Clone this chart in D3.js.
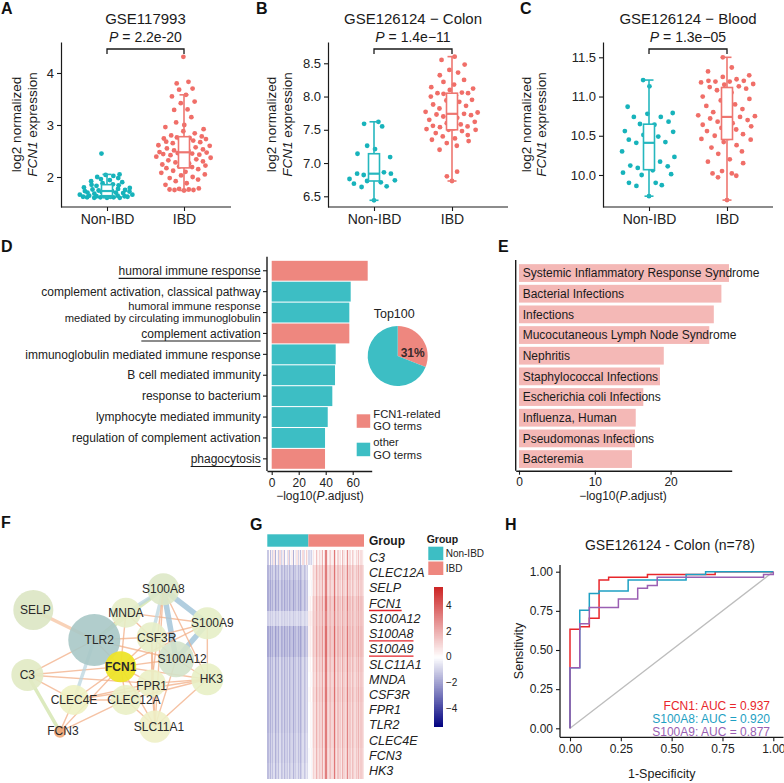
<!DOCTYPE html>
<html>
<head>
<meta charset="utf-8">
<script src="https://cdn.jsdelivr.net/npm/d3@7/dist/d3.min.js"></script>
<style>
html,body{margin:0;padding:0;background:#fff;}
svg{display:block;font-family:"Liberation Sans",Arial,Helvetica,sans-serif;}
</style>
</head>
<body>
<svg id="fig" width="784" height="783" viewBox="0 0 784 783"></svg>
<script>
// ===================== DATA =====================
const groups = ["Non-IBD", "IBD"];

// A: GSE117993 (log2 normalized FCN1 expression)
const a_nonIBD = [1.60,1.60,1.60,1.61,1.61,1.61,1.62,1.62,1.62,1.63,1.63,1.64,1.64,1.65,1.66,1.66,1.67,1.68,1.69,1.70,1.70,1.71,1.72,1.73,1.73,1.74,1.75,1.76,1.77,1.78,1.79,1.80,1.82,1.83,1.84,1.85,1.86,1.88,1.90,1.92,1.94,1.96,1.98,2.00,2.02,2.04,2.05,2.45];
const a_IBD = [1.74,1.75,1.75,1.76,1.76,1.77,1.78,1.85,1.88,1.92,1.95,1.98,2.00,2.03,2.05,2.08,2.10,2.12,2.15,2.17,2.19,2.20,2.22,2.24,2.26,2.28,2.30,2.32,2.34,2.35,2.37,2.39,2.40,2.42,2.43,2.44,2.45,2.46,2.47,2.48,2.50,2.51,2.53,2.55,2.57,2.58,2.60,2.61,2.63,2.65,2.67,2.68,2.70,2.72,2.73,2.74,2.75,2.76,2.78,2.80,2.84,2.88,2.92,2.96,3.00,3.05,3.15,3.29,3.30,3.42,3.45,3.55,3.58,3.68,3.70,3.80,3.83,4.31];

// B: GSE126124 - Colon
const b_nonIBD = [6.44,6.64,6.65,6.69,6.71,6.73,6.74,6.76,6.77,6.82,6.84,6.84,6.86,6.90,7.09,7.14,7.21,7.26,7.55,7.59,7.62];
const b_IBD = [6.73,6.80,6.87,7.20,7.26,7.30,7.33,7.35,7.37,7.40,7.42,7.45,7.48,7.50,7.50,7.51,7.52,7.54,7.55,7.56,7.58,7.60,7.62,7.65,7.68,7.70,7.72,7.73,7.74,7.75,7.76,7.77,7.80,7.82,7.86,7.88,7.92,7.94,7.95,8.00,8.02,8.04,8.05,8.05,8.06,8.10,8.12,8.14,8.18,8.22,8.25,8.32,8.36,8.40,8.48,8.55,8.60];

// C: GSE126124 - Blood
const c_nonIBD = [9.73,9.86,9.87,9.90,9.90,10.00,10.01,10.03,10.06,10.09,10.11,10.12,10.17,10.17,10.23,10.30,10.41,10.41,10.42,10.45,10.49,10.51,10.55,10.56,10.64,10.65,10.68,10.74,10.74,10.78,10.79,10.87,11.13,11.21];
const c_IBD = [9.68,9.97,9.99,10.02,10.02,10.05,10.15,10.17,10.20,10.27,10.30,10.35,10.38,10.42,10.45,10.46,10.47,10.50,10.52,10.56,10.58,10.60,10.62,10.64,10.66,10.68,10.70,10.72,10.74,10.74,10.75,10.76,10.78,10.80,10.84,10.88,10.90,10.95,10.97,11.00,11.05,11.08,11.10,11.12,11.13,11.15,11.16,11.18,11.19,11.19,11.20,11.20,11.22,11.25,11.27,11.32,11.37,11.50];

const boxTitles = ["GSE117993", "GSE126124 \u2212 Colon", "GSE126124 \u2212 Blood"];
const boxPvalues = ["2.2e-20", "1.4e\u221211", "1.3e\u221205"];
const ticksA = [2, 3, 4];
const ticksB = [6.5, 7.0, 7.5, 8.0, 8.5];
const ticksC = [10.0, 10.5, 11.0, 11.5];

// D: GO enrichment
const goTerms = ["humoral immune response", "complement activation, classical pathway",
  "humoral immune response\nmediated by circulating immunoglobulin", "complement activation",
  "immunoglobulin mediated immune response", "B cell mediated immunity", "response to bacterium",
  "lymphocyte mediated immunity", "regulation of complement activation", "phagocytosis"];
const goLogP = [71.1, 58.5, 57.5, 57.5, 47.4, 46.9, 44.9, 41.5, 39.5, 39.5];
const goFCN1Related = [true, false, false, true, false, false, false, false, false, true];
const goTicks = [0, 20, 40, 60];
const pieTitle = "Top100";
const pieShares = [31, 69];
const pieLegend = [["FCN1-related", "GO terms"], ["other", "GO terms"]];

// E: disease enrichment
const doTerms = ["Systemic Inflammatory Response Syndrome", "Bacterial Infections", "Infections",
  "Mucocutaneous Lymph Node Syndrome", "Nephritis", "Staphylococcal Infections",
  "Escherichia coli Infections", "Influenza, Human", "Pseudomonas Infections", "Bacteremia"];
const doLogP = [27.7, 26.7, 25.7, 25.1, 19.1, 18.6, 16.4, 15.4, 15.3, 14.9];
const doTicks = [0, 10, 20];

// F: network
const netNodes = ["SELP","TLR2","MNDA","S100A8","S100A9","CSF3R","S100A12","FCN1","C3","HK3","FPR1","CLEC4E","CLEC12A","SLC11A1","FCN3"];
const netNodeX = [0.106,0.383,0.527,0.697,0.897,0.644,0.755,0.503,0.079,0.897,0.644,0.291,0.527,0.659,0.227];
const netNodeY = [0.222,0.389,0.237,0.107,0.296,0.374,0.496,0.537,0.583,0.607,0.630,0.722,0.722,0.870,0.898];
const netNodeScore = [17.8,30,10,11.4,11.4,10,14.4,10.7,11.4,11.4,8.7,10,10,11.4,1.6];
const netEdges = [
  ["SELP","TLR2","o2"],["C3","TLR2","o"],["C3","FCN1","o"],["C3","FCN3","g"],["C3","CLEC4E","o"],["C3","FPR1","o"],
  ["TLR2","CLEC4E","b2"],["TLR2","FCN1","o"],["TLR2","MNDA","o"],["TLR2","CSF3R","o"],["TLR2","S100A8","g"],["TLR2","S100A12","o"],
  ["MNDA","S100A8","b2"],["MNDA","CSF3R","o"],["MNDA","FCN1","o"],["MNDA","S100A9","o"],
  ["S100A8","S100A9","b"],["S100A8","S100A12","b"],["S100A9","S100A12","b"],["S100A8","CSF3R","b2"],
  ["S100A8","HK3","o"],["S100A8","FPR1","o"],["S100A8","SLC11A1","o"],
  ["S100A9","HK3","o"],["S100A9","CSF3R","o"],["S100A9","FCN1","o"],
  ["CSF3R","FCN1","o"],["CSF3R","S100A12","o"],["CSF3R","FPR1","o"],["CSF3R","SLC11A1","o"],
  ["FCN1","S100A12","o"],["FCN1","FPR1","o"],["FCN1","CLEC12A","o"],["FCN1","CLEC4E","o"],["FCN1","SLC11A1","o"],["FCN1","FCN3","o"],["FCN1","HK3","o"],
  ["CLEC4E","CLEC12A","o"],["CLEC4E","FPR1","o"],["CLEC4E","HK3","o"],["CLEC4E","FCN3","o"],
  ["CLEC12A","HK3","o"],["CLEC12A","SLC11A1","o"],["CLEC12A","FPR1","o"],["FCN3","CLEC12A","o"],
  ["FPR1","HK3","o"],["FPR1","SLC11A1","o"],["SLC11A1","HK3","o"],["S100A12","HK3","o"],["S100A12","SLC11A1","o"]
];

// G: heatmap (z-scores: gene level per group + per-sample column shift)
const hmGenes = ["C3","CLEC12A","SELP","FCN1","S100A12","S100A8","S100A9","SLC11A1","MNDA","CSF3R","FPR1","TLR2","CLEC4E","FCN3","HK3"];
const hmNonIBDLevel = [-0.4,-1.3,-1.5,-1.5,-0.9,-1.6,-1.6,-1.3,-1.3,-1.3,-1.3,-1.3,-1.2,-1.2,-1.1];
const hmIBDLevel    = [0.5,1.1,1.0,1.3,1.3,1.4,1.4,1.2,1.1,1.2,1.1,1.1,1.1,1.0,1.0];
const hmGainNonIBD  = [2.6,1,1,1,0.5,1,1,1,1,1,1,1,1,1,1];
const hmGainIBD     = [1.2,1,1,1,0.8,1,1,1,1,1,1,1,1,1,1];
const hmShiftNonIBD = [-0.3,0.2,-0.4,0.3,-0.2,0.4,-0.5,0.1,0.3,-0.3,0.5,-0.2,0.0,0.4,-0.4,0.2,-0.1,0.5,-0.3,0.1,0.3,-0.5,0.2,0.0,0.4,-0.2,0.3,-0.4,0.1,0.5,-0.1,0.2,0.6,0.3];
const hmShiftIBD = [-1.1,-0.9,-1.2,-0.6,0.1,-0.3,0.9,0.0,-0.2,0.4,0.0,1.2,-0.3,0.2,2.2,0.1,-0.2,0.3,0.6,-0.1,0.1,2.4,0.3,-0.3,0.5,0.0,0.2,-0.4,1.0,0.1,-0.2,0.2,2.0,0.0,0.3,-0.3,0.6,0.2,-0.2,0.4,0.0,0.8,-0.1,0.3,0.1,-0.3];
const hmUnderlined = ["FCN1","S100A8","S100A9"];
const hmLegendTicks = [4, 2, 0, -2, -4];

// H: ROC
const rocTitle = "GSE126124 - Colon (n=78)";
const rocNames = ["FCN1","S100A8","S100A9"];
const rocAUC = ["0.937","0.920","0.877"];
const rocFCN1 = [[0,0],[0,0.632],[0.048,0.632],[0.048,0.649],[0.095,0.649],[0.095,0.702],[0.143,0.702],[0.143,0.947],[0.190,0.947],[0.190,0.965],[0.381,0.965],[0.381,0.982],[0.714,0.982],[0.714,1],[1,1]];
const rocS100A8 = [[0,0],[0,0.386],[0.048,0.386],[0.048,0.754],[0.095,0.754],[0.095,0.860],[0.143,0.860],[0.143,0.877],[0.286,0.877],[0.286,0.947],[0.571,0.947],[0.571,0.982],[0.667,0.982],[0.667,1],[1,1]];
const rocS100A9 = [[0,0],[0,0.386],[0.048,0.386],[0.048,0.667],[0.095,0.667],[0.095,0.772],[0.238,0.772],[0.238,0.825],[0.333,0.825],[0.333,0.895],[0.381,0.895],[0.381,0.912],[0.429,0.912],[0.429,0.965],[0.952,0.965],[0.952,0.982],[1,0.982],[1,1]];
const rocTicks = [0, 0.25, 0.5, 0.75, 1];

// ===================== DRAWING =====================
const FONT = '"Liberation Sans", Arial, Helvetica, sans-serif';
const svg = d3.select("#fig");
const INK = "#1a1a1a";
const TEAL = "#17B3BB", SALMON = "#F06E68";
const TEAL_BOX = "#25B7BE", SALMON_BOX = "#EE7670";

function letter(ch, x, y) {
  svg.append("text").attr("x", x).attr("y", y).attr("font-size", 16).attr("font-weight", "bold")
    .attr("fill", "#111").text(ch);
}
letter("A", 1, 14); letter("B", 256, 14); letter("C", 520, 14);
letter("D", 1, 252); letter("E", 498, 252);
letter("F", 1, 528); letter("G", 250, 530); letter("H", 505, 530);

function vdc(n) { let v = 0, d = 1; while (n > 0) { d *= 2; v += (n % 2) / d; n = Math.floor(n / 2); } return v; }
function quasi(vals, halfW) {
  const idx = d3.range(vals.length).sort((a, b) => vals[a] - vals[b]);
  const s = idx.map(i => vals[i]);
  const sd = d3.deviation(vals), iqr = d3.quantile(s, .75) - d3.quantile(s, .25);
  const bw = 0.9 * Math.min(sd, iqr / 1.34) * Math.pow(vals.length, -0.2);
  const dens = v => d3.sum(vals, u => Math.exp(-0.5 * ((v - u) / bw) ** 2));
  const maxD = d3.max(vals, dens);
  const off = new Array(vals.length);
  idx.forEach((i, r) => { off[i] = (vdc(r + 1) - 0.5) * 2 * halfW * Math.sqrt(dens(vals[i]) / maxD); });
  return off;
}

function styleAxis(ax, fs) {
  ax.attr("font-family", FONT);
  ax.selectAll(".tick line").attr("stroke", INK).attr("stroke-width", 1.1);
  ax.selectAll(".tick text").attr("font-size", fs).attr("fill", "#222");
}

// two-line text in a single <text> element
function twoLine(g, x, y, lines, gap, anchor, fs) {
  const t = g.append("text").attr("x", x).attr("y", y).attr("text-anchor", anchor).attr("font-size", fs).attr("fill", "#222");
  t.append("tspan").attr("x", x).text(lines[0]);
  t.append("tspan").attr("x", x).attr("dy", gap).text(lines[1]);
  return t;
}

function boxPanel(cfg) {
  const g = svg.append("g");
  const y = d3.scaleLinear().domain(cfg.domain).range([207, 42]);
  const x = d3.scalePoint().domain(groups).range(cfg.cats);
  const fills = [TEAL, SALMON], strokes = [TEAL_BOX, SALMON_BOX];

  cfg.data.forEach((vals, gi) => {
    const cx = x(groups[gi]);
    const off = quasi(vals, cfg.halfW);
    g.append("g").selectAll("circle").data(vals).join("circle")
      .attr("cx", (d, i) => cx + off[i]).attr("cy", d => y(d)).attr("r", 2.4).attr("fill", fills[gi]);
    const s = vals.slice().sort(d3.ascending);
    const q1 = d3.quantile(s, .25), med = d3.quantile(s, .5), q3 = d3.quantile(s, .75), iqr = q3 - q1;
    const lo = d3.min(s.filter(v => v >= q1 - 1.5 * iqr)), hi = d3.max(s.filter(v => v <= q3 + 1.5 * iqr));
    const bw = 5.5, cw = 4.5, col = strokes[gi];
    const bg = g.append("g").attr("stroke", col).attr("stroke-width", 1.6).attr("fill", "none");
    bg.append("line").attr("x1", cx).attr("x2", cx).attr("y1", y(hi)).attr("y2", y(q3));
    bg.append("line").attr("x1", cx).attr("x2", cx).attr("y1", y(q1)).attr("y2", y(lo));
    bg.append("line").attr("x1", cx - cw).attr("x2", cx + cw).attr("y1", y(hi)).attr("y2", y(hi));
    bg.append("line").attr("x1", cx - cw).attr("x2", cx + cw).attr("y1", y(lo)).attr("y2", y(lo));
    bg.append("rect").attr("x", cx - bw).attr("width", 2 * bw).attr("y", y(q3)).attr("height", y(q1) - y(q3))
      .attr("fill", "#fff");
    bg.append("line").attr("x1", cx - bw).attr("x2", cx + bw).attr("y1", y(med)).attr("y2", y(med)).attr("stroke-width", 2.2);
  });

  const ya = g.append("g").attr("transform", `translate(${cfg.x0},0)`)
    .call(d3.axisLeft(y).tickValues(cfg.ticks).tickFormat(cfg.fmt).tickSize(4).tickSizeOuter(0).tickPadding(3));
  ya.select(".domain").attr("stroke", INK).attr("stroke-width", 1.2);
  styleAxis(ya, 13);
  const xa = g.append("g").attr("transform", "translate(0,207)")
    .call(d3.axisBottom(x).tickSize(4).tickSizeOuter(0).tickPadding(3));
  xa.select(".domain").remove();
  styleAxis(xa, 14);
  g.append("line").attr("x1", cfg.x0).attr("x2", cfg.xEnd).attr("y1", 207).attr("y2", 207)
    .attr("stroke", INK).attr("stroke-width", 1.2);

  const mid = (cfg.cats[0] + cfg.cats[1]) / 2;
  g.append("text").attr("x", mid).attr("y", 24).attr("text-anchor", "middle").attr("font-size", 15)
    .attr("fill", INK).text(cfg.title);
  const pt = g.append("text").attr("x", mid).attr("y", 42).attr("text-anchor", "middle").attr("font-size", 14).attr("fill", INK);
  pt.append("tspan").attr("font-style", "italic").text("P");
  pt.append("tspan").text(" = " + cfg.p);
  g.append("path").attr("d", `M${cfg.cats[0]},54V49H${cfg.cats[1]}V54`).attr("fill", "none")
    .attr("stroke", INK).attr("stroke-width", 1.3);

  g.append("text").attr("transform", `translate(${cfg.ylab[0]},124.5) rotate(-90)`).attr("text-anchor", "middle")
    .attr("font-size", 13.5).attr("fill", INK).text("log2 normalized");
  const l2 = g.append("text").attr("transform", `translate(${cfg.ylab[1]},124.5) rotate(-90)`).attr("text-anchor", "middle")
    .attr("font-size", 13.5).attr("fill", INK);
  l2.append("tspan").attr("font-style", "italic").text("FCN1");
  l2.append("tspan").text(" expression");
}

boxPanel({ data: [a_nonIBD, a_IBD], domain: [1.423, 4.596], ticks: ticksA, fmt: d3.format("d"),
  x0: 61, xEnd: 231, cats: [107, 184], title: boxTitles[0], p: boxPvalues[0], ylab: [21.3, 36.6], halfW: 29 });
boxPanel({ data: [b_nonIBD, b_IBD], domain: [6.339, 8.82], ticks: ticksB, fmt: d3.format(".1f"),
  x0: 328, xEnd: 508, cats: [374, 452], title: boxTitles[1], p: boxPvalues[1], ylab: [276.3, 291.6], halfW: 28 });
boxPanel({ data: [c_nonIBD, c_IBD], domain: [9.592, 11.695], ticks: ticksC, fmt: d3.format(".1f"),
  x0: 603, xEnd: 773, cats: [649, 727], title: boxTitles[2], p: boxPvalues[2], ylab: [530.6, 545.6], halfW: 30 });

// ---------- D ----------
(function () {
  const g = svg.append("g");
  const RED = "#EE877F", TL = "#3DBEC4";
  const x = d3.scaleLinear().domain([-3.48, 74.07]).range([267, 371.7]);
  const y = d3.scaleBand().domain(d3.range(goTerms.length)).range([260.3, 469.3]).paddingInner(0.05).paddingOuter(0.025);
  g.selectAll("rect.bar").data(goLogP).join("rect").attr("class", "bar")
    .attr("x", x(0)).attr("y", (d, i) => y(i)).attr("width", d => x(d) - x(0)).attr("height", y.bandwidth())
    .attr("fill", (d, i) => goFCN1Related[i] ? RED : TL);
  const lx = 260.7;
  goTerms.forEach((t, i) => {
    const cy = y(i) + y.bandwidth() / 2;
    g.append("line").attr("x1", 263).attr("x2", 267).attr("y1", cy).attr("y2", cy).attr("stroke", INK).attr("stroke-width", 1.1);
    const lines = t.split("\n");
    if (lines.length === 1) {
      const tx = g.append("text").attr("x", lx).attr("y", cy + 4.2).attr("text-anchor", "end").attr("font-size", 12)
        .attr("fill", "#222").text(t);
      if (goFCN1Related[i]) {
        const w = tx.node().getComputedTextLength();
        g.append("line").attr("x1", lx - w).attr("x2", lx).attr("y1", cy + 7.6).attr("y2", cy + 7.6)
          .attr("stroke", INK).attr("stroke-width", 1.1);
      }
    } else {
      twoLine(g, lx, cy - 3, lines, 12.6, "end", 11.2);
    }
  });
  g.append("line").attr("x1", 267).attr("x2", 267).attr("y1", 256.7).attr("y2", 471).attr("stroke", INK).attr("stroke-width", 1.4);
  const xa = g.append("g").attr("transform", "translate(0,471)")
    .call(d3.axisBottom(x).tickValues(goTicks).tickSize(4).tickSizeOuter(0).tickPadding(3));
  xa.select(".domain").attr("stroke", INK).attr("stroke-width", 1.4);
  styleAxis(xa, 12);
  const xl = g.append("text").attr("x", 320).attr("y", 500).attr("text-anchor", "middle").attr("font-size", 12).attr("fill", "#222");
  xl.append("tspan").text("\u2212log10(");
  xl.append("tspan").attr("font-style", "italic").text("P");
  xl.append("tspan").text(".adjust)");

  // pie
  const pg = g.append("g").attr("transform", "translate(397.7,356)");
  const arcs = d3.pie().sort(null)(pieShares);
  const arc = d3.arc().innerRadius(0).outerRadius(30);
  pg.selectAll("path").data(arcs).join("path").attr("d", arc).attr("fill", (d, i) => i === 0 ? RED : TL);
  pg.append("text").attr("x", 15).attr("y", 0.7).attr("text-anchor", "middle").attr("font-size", 12)
    .attr("font-weight", "bold").attr("fill", "#3a2a2a").text(pieShares[0] + "%");
  g.append("text").attr("x", 394.2).attr("y", 318).attr("text-anchor", "middle").attr("font-size", 12.5).attr("fill", "#222").text(pieTitle);
  // legend
  const ly = [414.3, 442.7];
  pieLegend.forEach((lab, i) => {
    g.append("rect").attr("x", 356.7).attr("y", ly[i]).attr("width", 13.5).attr("height", 13.5).attr("fill", i === 0 ? RED : TL);
    twoLine(g, 373.3, ly[i] + 3.4, lab, 12.6, "start", 11.2);
  });
})();

// ---------- E ----------
(function () {
  const g = svg.append("g");
  const x = d3.scaleLinear().domain([-0.435, 28.06]).range([515.7, 731.7]);
  const y = d3.scaleBand().domain(d3.range(doTerms.length)).range([262.7, 469.4]).paddingInner(0.14).paddingOuter(0.07);
  g.selectAll("rect").data(doLogP).join("rect")
    .attr("x", x(0)).attr("y", (d, i) => y(i)).attr("width", d => x(d) - x(0)).attr("height", y.bandwidth())
    .attr("fill", "#F4B8B6");
  g.selectAll("text.lab").data(doTerms).join("text").attr("class", "lab")
    .attr("x", 522.7).attr("y", (d, i) => y(i) + y.bandwidth() / 2 + 4.3).attr("font-size", 12).attr("fill", "#1a1a1a").text(d => d);
  g.append("line").attr("x1", 515.7).attr("x2", 515.7).attr("y1", 260).attr("y2", 470.7).attr("stroke", INK).attr("stroke-width", 1.4);
  const xa = g.append("g").attr("transform", "translate(0,470.7)")
    .call(d3.axisBottom(x).tickValues(doTicks).tickSize(4).tickSizeOuter(0).tickPadding(3));
  xa.select(".domain").attr("stroke", INK).attr("stroke-width", 1.4);
  styleAxis(xa, 12);
  const xl = g.append("text").attr("x", 623).attr("y", 500).attr("text-anchor", "middle").attr("font-size", 12).attr("fill", "#222");
  xl.append("tspan").text("\u2212log10(");
  xl.append("tspan").attr("font-style", "italic").text("P");
  xl.append("tspan").text(".adjust)");
})();

// ---------- F ----------
(function () {
  const g = svg.append("g");
  const x = d3.scaleLinear().domain([0, 1]).range([10, 230]);
  const y = d3.scaleLinear().domain([0, 1]).range([570, 750]);
  const r = d3.scaleSqrt().domain([0, 30]).range([0, 26]);
  const pos = {};
  netNodes.forEach((n, i) => pos[n] = [x(netNodeX[i]), y(netNodeY[i])]);
  const edgeStyle = {
    o: { c: "#F2AE86", w: 1.4, op: 0.75 },
    o2: { c: "#F6C7A6", w: 3.5, op: 0.8 },
    b: { c: "#A3C5D9", w: 5.5, op: 0.85 },
    b2: { c: "#BBD6DF", w: 3.5, op: 0.75 },
    g: { c: "#D6E6B3", w: 3.5, op: 0.85 }
  };
  g.selectAll("line").data(netEdges).join("line")
    .attr("x1", d => pos[d[0]][0]).attr("y1", d => pos[d[0]][1])
    .attr("x2", d => pos[d[1]][0]).attr("y2", d => pos[d[1]][1])
    .attr("stroke", d => edgeStyle[d[2]].c).attr("stroke-width", d => edgeStyle[d[2]].w)
    .attr("stroke-opacity", d => edgeStyle[d[2]].op).attr("stroke-linecap", "round");
  const nodeFill = { SELP: "#DCE6C3", TLR2: "#A9C8C7", MNDA: "#E6EDC6", S100A8: "#DDE8C7", S100A9: "#E6EEC6",
    CSF3R: "#E7EEC8", S100A12: "#D3E2CA", FCN1: "#EDE428", C3: "#E1EAC3", HK3: "#E8EFC5", FPR1: "#EBF0C5",
    CLEC4E: "#EEF2C3", CLEC12A: "#EAF0C5", SLC11A1: "#EEF0C6", FCN3: "#EEA675" };
  const labelDx = { TLR2: 5, S100A9: 5, CSF3R: 5, S100A12: 6, HK3: 4, CLEC12A: 8, SLC11A1: 4, FCN3: 3, SELP: 2 };
  const labelDy = { FPR1: 2, FCN3: -1 };
  netNodes.forEach((n, i) => {
    g.append("circle").attr("cx", pos[n][0]).attr("cy", pos[n][1]).attr("r", r(netNodeScore[i]))
      .attr("fill", nodeFill[n]).attr("fill-opacity", n === "FCN1" ? 0.95 : 0.9);
  });
  netNodes.forEach((n) => {
    g.append("text").attr("x", pos[n][0] + (labelDx[n] || 0)).attr("y", pos[n][1] + (labelDy[n] || 0) + 4.2)
      .attr("text-anchor", "middle").attr("font-size", 12).attr("fill", "#2a2a2a")
      .attr("font-weight", n === "FCN1" ? "bold" : "normal").text(n);
  });
})();

// ---------- G ----------
(function () {
  const g = svg.append("g");
  const nNon = hmShiftNonIBD.length, nIBD = hmShiftIBD.length, nCol = nNon + nIBD;
  const x = d3.scaleBand().domain(d3.range(nCol)).range([267.3, 364]);
  const y = d3.scaleBand().domain(hmGenes).range([550, 778.3]);
  const color = d3.scaleLinear().domain([-5.46, 0, 5.41]).range(["#000080", "#FFFFFF", "#CD2626"]);
  const cells = [];
  hmGenes.forEach((gene, gi) => {
    d3.range(nCol).forEach(c => {
      const v = c < nNon ? hmNonIBDLevel[gi] + hmGainNonIBD[gi] * hmShiftNonIBD[c]
                         : hmIBDLevel[gi] + hmGainIBD[gi] * hmShiftIBD[c - nNon];
      cells.push({ gene, c, v });
    });
  });
  g.append("g").attr("shape-rendering", "crispEdges").selectAll("rect").data(cells).join("rect")
    .attr("x", d => x(d.c)).attr("y", d => y(d.gene)).attr("width", x.bandwidth() + 0.3).attr("height", y.bandwidth() + 0.3)
    .attr("fill", d => color(d.v));
  // annotation bar
  g.append("rect").attr("x", x(0)).attr("y", 534.3).attr("width", x(nNon) - x(0)).attr("height", 12.4).attr("fill", "#3DBEC4");
  g.append("rect").attr("x", x(nNon)).attr("y", 534.3).attr("width", 364 - x(nNon)).attr("height", 12.4).attr("fill", "#EE877F");
  g.append("text").attr("x", 369).attr("y", 545).attr("font-size", 12).attr("font-weight", "bold").attr("fill", INK).text("Group");
  hmGenes.forEach(gene => {
    const cy = y(gene) + y.bandwidth() / 2;
    const t = g.append("text").attr("x", 369).attr("y", cy + 4.4).attr("font-size", 12.5).attr("font-style", "italic")
      .attr("fill", "#222").text(gene);
    if (hmUnderlined.includes(gene)) {
      const w = t.node().getComputedTextLength();
      g.append("line").attr("x1", 369).attr("x2", 369 + w).attr("y1", cy + 7.2).attr("y2", cy + 7.2)
        .attr("stroke", "#E3242B").attr("stroke-width", 1.4);
    }
  });
  // group legend
  g.append("text").attr("x", 426.7).attr("y", 543).attr("font-size", 10.5).attr("font-weight", "bold").attr("fill", INK).text("Group");
  [["Non-IBD", "#3DBEC4", 546.7], ["IBD", "#EE877F", 561.5]].forEach(([lab, col, yy]) => {
    g.append("rect").attr("x", 428.3).attr("y", yy).attr("width", 15).attr("height", 13.5).attr("fill", col);
    g.append("text").attr("x", 445.7).attr("y", yy + 10.5).attr("font-size", 10).attr("fill", "#222").text(lab);
  });
  // colorbar
  const cb = d3.scaleLinear().domain([-5.46, 5.41]).range([726.7, 587.3]);
  const steps = d3.range(-5.46, 5.41, 0.05);
  g.append("g").attr("shape-rendering", "crispEdges").selectAll("rect").data(steps).join("rect")
    .attr("x", 434).attr("width", 8.7).attr("y", d => cb(d + 0.05)).attr("height", d => cb(d) - cb(d + 0.05) + 0.6)
    .attr("fill", d => color(d + 0.025));
  hmLegendTicks.forEach(t => {
    g.append("text").attr("x", 446).attr("y", cb(t) + 3.6).attr("font-size", 10).attr("fill", "#222")
      .text(t < 0 ? "\u2212" + Math.abs(t) : String(t));
  });
})();

// ---------- H ----------
(function () {
  const g = svg.append("g");
  const x = d3.scaleLinear().domain([0, 1]).range([570, 773.3]);
  const y = d3.scaleLinear().domain([0, 1]).range([728.3, 571.7]);
  g.append("line").attr("x1", x(0)).attr("y1", y(0)).attr("x2", x(1)).attr("y2", y(1)).attr("stroke", "#BDBDBD").attr("stroke-width", 1.3);
  const line = d3.line().x(d => x(d[0])).y(d => y(d[1]));
  const cols = ["#E8262B", "#1EA0C3", "#9A5FB3"];
  [rocFCN1, rocS100A8, rocS100A9].forEach((pts, i) => {
    g.append("path").attr("d", line(pts)).attr("fill", "none").attr("stroke", cols[i]).attr("stroke-width", 1.5);
  });
  const ya = g.append("g").attr("transform", "translate(560,0)")
    .call(d3.axisLeft(y).tickValues(rocTicks).tickFormat(d3.format(".2f")).tickSize(4).tickSizeOuter(0).tickPadding(3));
  ya.select(".domain").remove();
  styleAxis(ya, 12);
  const xa = g.append("g").attr("transform", "translate(0,737.3)")
    .call(d3.axisBottom(x).tickValues(rocTicks).tickFormat(d3.format(".2f")).tickSize(4).tickSizeOuter(0).tickPadding(3));
  xa.select(".domain").remove();
  styleAxis(xa, 12);
  g.append("line").attr("x1", 560).attr("x2", 560).attr("y1", 565).attr("y2", 737.3).attr("stroke", INK).attr("stroke-width", 1.3);
  g.append("line").attr("x1", 560).attr("x2", 783.5).attr("y1", 737.3).attr("y2", 737.3).attr("stroke", INK).attr("stroke-width", 1.3);
  g.append("text").attr("x", 670).attr("y", 550).attr("text-anchor", "middle").attr("font-size", 14).attr("fill", INK).text(rocTitle);
  g.append("text").attr("x", 661.7).attr("y", 778).attr("text-anchor", "middle").attr("font-size", 12.5).attr("fill", INK).text("1-Specificity");
  g.append("text").attr("transform", "translate(523,651) rotate(-90)").attr("text-anchor", "middle").attr("font-size", 12.5)
    .attr("fill", INK).text("Sensitivity");
  const ty = [709.5, 723, 736];
  rocNames.forEach((n, i) => {
    g.append("text").attr("x", 770).attr("y", ty[i]).attr("text-anchor", "end").attr("font-size", 12)
      .attr("fill", cols[i]).text(`${n}: AUC = ${rocAUC[i]}`);
  });
})();
</script>
</body>
</html>
